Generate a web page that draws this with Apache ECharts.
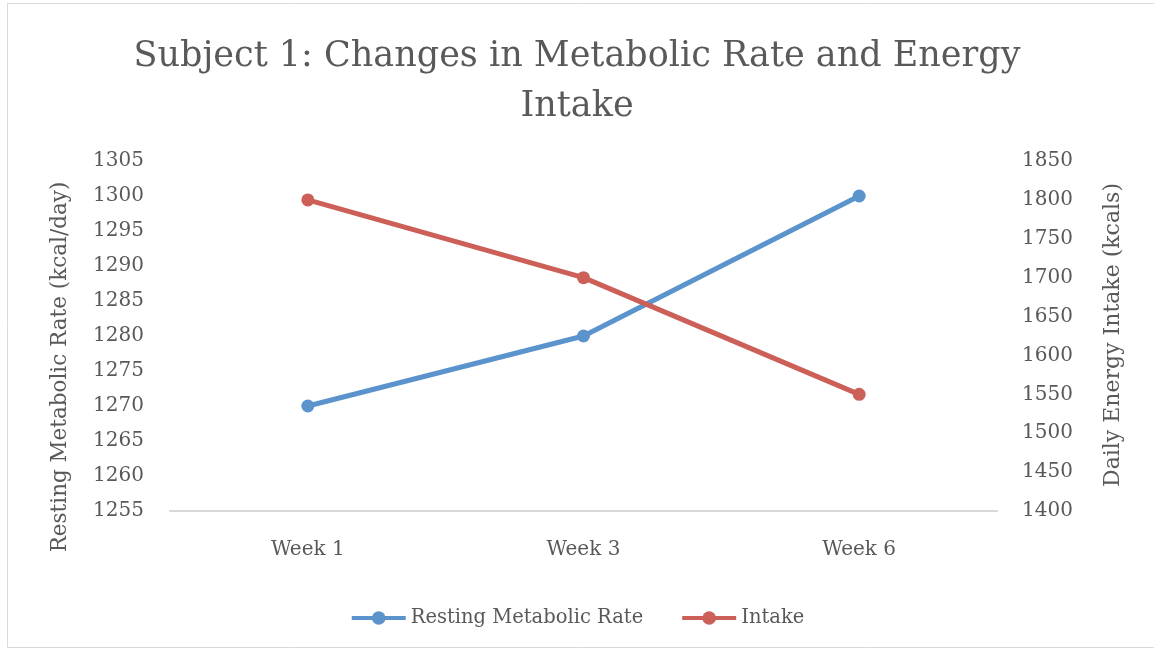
<!DOCTYPE html>
<html>
<head>
<meta charset="utf-8">
<script src="https://cdn.jsdelivr.net/npm/echarts@6/dist/echarts.min.js"></script>
<style>
html,body{margin:0;padding:0;background:#fff;}
#c{width:1154px;height:651px;}
</style>
</head>
<body>
<div id="c"></div>
<script>
var categories = ['Week 1', 'Week 3', 'Week 6'];
var rmrValues = [1270, 1280, 1300];
var intakeValues = [1800, 1700, 1550];
var leftMin = 1255, leftMax = 1305, leftStep = 5;
var rightMin = 1400, rightMax = 1850, rightStep = 50;

var FONT = 'DejaVu Serif';
var TXT = '#595959';
var plain = function (v) { return String(v); };
var chart = echarts.init(document.getElementById('c'));
chart.setOption({
  backgroundColor: '#fff',
  animation: false,
  title: {
    text: 'Subject 1: Changes in Metabolic Rate and Energy\nIntake',
    left: 'center',
    top: 27,
    textStyle: {fontFamily: FONT, fontSize: 35, fontWeight: 'normal', color: TXT, lineHeight: 50}
  },
  graphic: [
    {type: 'rect', shape: {x: 7.5, y: 3.5, width: 1160, height: 644}, style: {fill: 'none', stroke: '#d9d9d9', lineWidth: 1}, z: -1},
    {type: 'text', x: 60, y: 367, rotation: Math.PI / 2,
     style: {text: 'Resting Metabolic Rate (kcal/day)', fill: TXT, font: '21.5px "' + FONT + '"', textAlign: 'center', textVerticalAlign: 'middle'}},
    {type: 'text', x: 1113, y: 335, rotation: Math.PI / 2,
     style: {text: 'Daily Energy Intake (kcals)', fill: TXT, font: '22px "' + FONT + '"', textAlign: 'center', textVerticalAlign: 'middle'}}
  ],
  legend: {
    bottom: 18,
    left: 'center',
    itemWidth: 54,
    itemHeight: 17,
    itemGap: 37,
    lineStyle: {width: 4},
    textStyle: {fontFamily: FONT, fontSize: 19.5, color: TXT},
    data: ['Resting Metabolic Rate', 'Intake']
  },
  grid: {left: 170, right: 157, top: 161, bottom: 140},
  xAxis: {
    type: 'category',
    data: categories,
    axisLine: {lineStyle: {color: '#d9d9d9', width: 2}},
    axisTick: {show: false},
    axisLabel: {fontFamily: FONT, fontSize: 20, color: TXT, margin: 29}
  },
  yAxis: [
    {type: 'value', min: leftMin, max: leftMax, interval: leftStep,
     axisLine: {show: false}, axisTick: {show: false}, splitLine: {show: false},
     axisLabel: {fontFamily: FONT, fontSize: 20, color: TXT, margin: 26, formatter: plain}},
    {type: 'value', min: rightMin, max: rightMax, interval: rightStep, position: 'right',
     axisLine: {show: false}, axisTick: {show: false}, splitLine: {show: false},
     axisLabel: {fontFamily: FONT, fontSize: 20, color: TXT, margin: 25, formatter: plain}}
  ],
  series: [
    {name: 'Resting Metabolic Rate', type: 'line', yAxisIndex: 0, data: rmrValues,
     symbol: 'circle', symbolSize: 13,
     lineStyle: {color: '#5b93cc', width: 5}, itemStyle: {color: '#5b93cc'}},
    {name: 'Intake', type: 'line', yAxisIndex: 1, data: intakeValues,
     symbol: 'circle', symbolSize: 13,
     lineStyle: {color: '#cc6058', width: 5}, itemStyle: {color: '#cc6058'}}
  ]
});
</script>
</body>
</html>
